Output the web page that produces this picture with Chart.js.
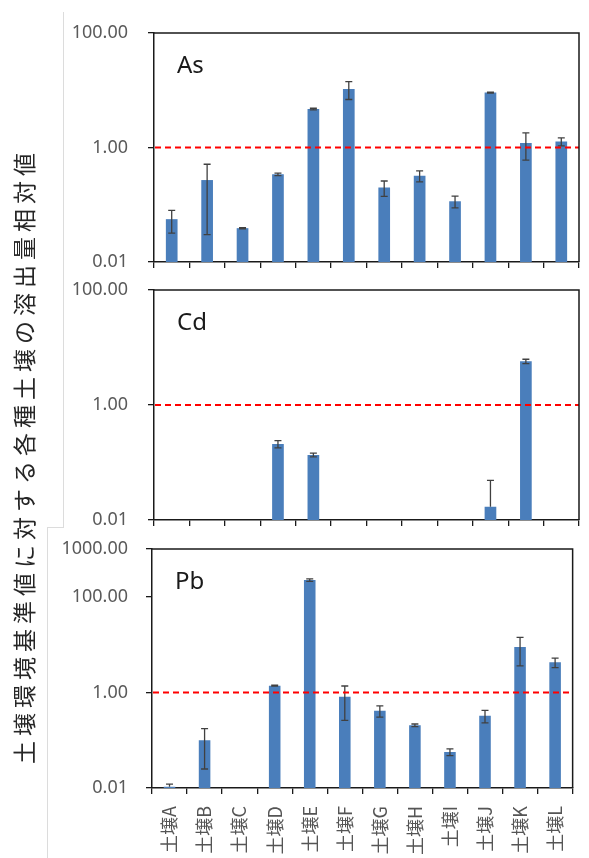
<!DOCTYPE html>
<html>
<head>
<meta charset="utf-8">
<script src="https://cdn.jsdelivr.net/npm/chart.js@4.4.1/dist/chart.umd.min.js"></script>
<style>
    html, body { margin: 0; padding: 0; background: #fff; }
    #wrap { position: relative; width: 589px; height: 858px; overflow: hidden; background: #fff; }
    .panel { position: absolute; left: 0; width: 589px; }
    .panel canvas { display: block; }
    .edge { position: absolute; background: #dcdcdc; }
    #ytitle {
        position: absolute; left: 23px; top: 456px;
        transform: translate(-50%, -50%) rotate(-90deg);
        white-space: nowrap; font-family: "Noto Sans CJK JP", sans-serif;
        font-size: 23px; letter-spacing: 5px; color: #262626;
    }
</style>
</head>
<body>
<div id="wrap">
    <div class="edge" style="left:63px;top:12px;width:1px;height:515px"></div>
    <div class="edge" style="left:47px;top:527px;width:17px;height:1px"></div>
    <div class="edge" style="left:47px;top:527px;width:1px;height:331px"></div>
    <!-- canvases are transparent, so they overlap to leave room for label overhang -->
    <div class="panel" style="top:0;height:295px"><canvas id="chart-as" width="589" height="295"></canvas></div>
    <div class="panel" style="top:257px;height:295px"><canvas id="chart-cd" width="589" height="295"></canvas></div>
    <div class="panel" style="top:516px;height:342px"><canvas id="chart-pb" width="589" height="342"></canvas></div>
    <div id="ytitle">土壌環境基準値に対する各種土壌の溶出量相対値</div>
</div>
<script>
// Soil labels and relative leaching values (ratio to the environmental standard)
var soils = ['土壌A', '土壌B', '土壌C', '土壌D', '土壌E', '土壌F', '土壌G', '土壌H', '土壌I', '土壌J', '土壌K', '土壌L'];

var asValues = [0.056, 0.27, 0.039, 0.34, 4.7, 10.5, 0.20, 0.32, 0.115, 9.1, 1.2, 1.27];
var asErrors = [0.024, 0.24, 0.001, 0.017, 0.15, 3.6, 0.06, 0.07, 0.027, 0.2, 0.6, 0.2];

var cdValues = [null, null, null, 0.21, 0.135, null, null, null, null, 0.017, 5.75, null];
var cdErrors = [0, 0, 0, 0.03, 0.01, 0, 0, 0, 0, 0.032, 0.5, 0];

var pbValues = [0.0106, 0.1, null, 1.38, 224, 0.81, 0.414, 0.205, 0.0566, 0.326, 8.9, 4.26];
var pbErrors = [0.0015, 0.075, 0, 0.03, 14, 0.55, 0.11, 0.013, 0.009, 0.096, 5.3, 0.95];

var asTicks = [0.01, 1, 100];
var cdTicks = [0.01, 1, 100];
var pbTicks = [0.01, 1, 100, 1000];

var standardLevel = 1;

var BAR_COLOR = '#4a7ebb';
var TICK_FONT = { family: '"Noto Sans", "DejaVu Sans", sans-serif', size: 18 };

// Draws the black frame, the dashed standard line, error bars and element name
function panelPlugin(name, errors) {
    return {
        id: 'panel-' + name,
        afterDatasetsDraw: function(chart) {
            var ctx = chart.ctx;
            var area = chart.chartArea;
            var y = chart.scales.y;
            var meta = chart.getDatasetMeta(0);
            ctx.save();

            // error bars
            ctx.strokeStyle = '#404040';
            ctx.lineWidth = 1.3;
            for (var i = 0; i < meta.data.length; i++) {
                var v = chart.data.datasets[0].data[i];
                if (v == null) continue;
                var e = errors[i];
                var x = meta.data[i].x;
                var yTop = y.getPixelForValue(v + e);
                var yVal = y.getPixelForValue(v);
                var low = v - e;
                var yLow = low > y.min ? y.getPixelForValue(low) : yVal;
                ctx.beginPath();
                ctx.moveTo(x, yTop);
                ctx.lineTo(x, yLow);
                ctx.moveTo(x - 3.5, yTop);
                ctx.lineTo(x + 3.5, yTop);
                if (low > y.min) {
                    ctx.moveTo(x - 3.5, yLow);
                    ctx.lineTo(x + 3.5, yLow);
                }
                ctx.stroke();
            }

            // standard line at 1.00
            var ys = y.getPixelForValue(standardLevel);
            ctx.strokeStyle = '#ff0000';
            ctx.lineWidth = 2;
            ctx.setLineDash([6, 4]);
            ctx.beginPath();
            ctx.moveTo(area.left + 1, ys);
            ctx.lineTo(area.right, ys);
            ctx.stroke();
            ctx.setLineDash([]);

            // top and right of the frame
            ctx.strokeStyle = '#1a1a1a';
            ctx.lineWidth = 1.5;
            ctx.beginPath();
            ctx.moveTo(area.left, area.top);
            ctx.lineTo(area.right, area.top);
            ctx.lineTo(area.right, area.bottom);
            ctx.stroke();

            // element name
            ctx.fillStyle = '#1a1a1a';
            ctx.font = '24px "Noto Sans", "DejaVu Sans", sans-serif';
            ctx.textBaseline = 'alphabetic';
            ctx.fillText(name, area.left + 23, area.top + 40);
            ctx.restore();
        }
    };
}

function makePanel(canvasId, name, values, errors, tickValues, cfg) {
    var canvas = document.getElementById(canvasId);
    return new Chart(canvas, {
        type: 'bar',
        data: {
            labels: soils,
            datasets: [{
                data: values,
                backgroundColor: BAR_COLOR,
                borderWidth: 0,
                barPercentage: 0.33,
                categoryPercentage: 1
            }]
        },
        options: {
            responsive: false,
            animation: false,
            layout: { padding: { top: 33, right: cfg.right, left: 0, bottom: 0 } },
            plugins: { legend: { display: false }, tooltip: { enabled: false } },
            scales: {
                x: {
                    grid: { offset: true, drawOnChartArea: false, drawTicks: true, tickLength: 6, color: '#1a1a1a', lineWidth: 1.3 },
                    border: { display: true, color: '#1a1a1a', width: 1.5 },
                    ticks: {
                        display: cfg.showLabels,
                        autoSkip: false,
                        minRotation: 90,
                        maxRotation: 90,
                        padding: 12,
                        color: '#555555',
                        font: { family: '"Noto Sans CJK JP", sans-serif', size: 18 }
                    },
                    afterFit: function(scale) { scale.height = cfg.xHeight; }
                },
                y: {
                    type: 'logarithmic',
                    min: tickValues[0],
                    max: tickValues[tickValues.length - 1],
                    grid: { drawOnChartArea: false, drawTicks: true, tickLength: 6, color: '#1a1a1a', lineWidth: 1.3 },
                    border: { display: true, color: '#1a1a1a', width: 1.5 },
                    ticks: {
                        padding: cfg.left - 6 - 128,
                        color: '#5a5a5a',
                        font: TICK_FONT,
                        callback: function(v) { return Number(v).toFixed(2); }
                    },
                    afterBuildTicks: function(scale) {
                        scale.ticks = tickValues.map(function(v) { return { value: v }; });
                    },
                    afterFit: function(scale) { scale.width = cfg.left; }
                }
            }
        },
        plugins: [panelPlugin(name, errors)]
    });
}

makePanel('chart-as', 'As', asValues, asErrors, asTicks, { right: 10, left: 154, xHeight: 33, showLabels: false });
makePanel('chart-cd', 'Cd', cdValues, cdErrors, cdTicks, { right: 10, left: 154, xHeight: 32, showLabels: false });
makePanel('chart-pb', 'Pb', pbValues, pbErrors, pbTicks, { right: 7, left: 152, xHeight: 70, showLabels: true });
</script>
</body>
</html>
